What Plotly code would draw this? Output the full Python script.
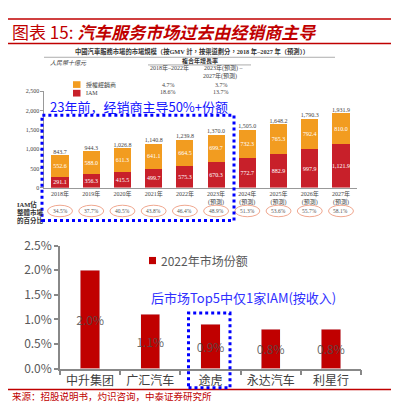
import plotly.graph_objects as go

W, H = 399, 402


def px(x):
    return x / W


def py(y):
    return 1 - y / H


# ---------------- data ----------------
years = ["2018年", "2019年", "2020年", "2021年", "2022年",
         "2023年<br>(預測)", "2024年<br>(預測)", "2025年<br>(預測)",
         "2026年<br>(預測)", "2027年<br>(預測)"]
iam = [291.1, 356.3, 415.5, 499.7, 575.3, 670.3, 772.7, 882.9, 997.9, 1121.9]
dealer = [552.6, 588.0, 611.3, 641.1, 664.5, 699.7, 732.3, 765.3, 792.4, 810.0]
totals = [843.7, 944.3, 1026.8, 1140.8, 1239.8, 1370.0, 1505.0, 1648.2, 1790.3, 1931.9]
iam_share = ["34.5%", "37.7%", "40.5%", "43.8%", "46.4%",
             "48.9%", "51.3%", "53.6%", "55.7%", "58.1%"]
top_ticks = [0, 500, 1000, 1500, 2000, 2500]

companies = ["中升集团", "广汇汽车", "途虎", "永达汽车", "利星行"]
share_2022 = [0.020, 0.011, 0.009, 0.008, 0.008]
bottom_ticks = [0, 0.005, 0.010, 0.015, 0.020, 0.025]

RED_TOP = "#C8202A"
ORANGE = "#F29C20"
RED = "#C00000"
BLUE = "#1414FF"
SERIF = "Liberation Serif, Noto Sans CJK TC"
SANS = "Noto Sans CJK SC"

fig = go.Figure()

# ---------------- top stacked chart ----------------
fig.add_trace(go.Bar(
    x=years, y=iam, marker_color=RED_TOP, width=0.55,
    texttemplate="%{y:,.1f}", textposition="inside", insidetextanchor="middle",
    textangle=0,
    insidetextfont=dict(size=6, color="white", family=SERIF),
    constraintext="none", xaxis="x", yaxis="y", showlegend=False,
    marker_line_width=0))
fig.add_trace(go.Bar(
    x=years, y=dealer, marker_color=ORANGE, width=0.55,
    texttemplate="%{y:,.1f}", textposition="inside", insidetextanchor="middle",
    textangle=0,
    insidetextfont=dict(size=6, color="white", family=SERIF),
    constraintext="none", xaxis="x", yaxis="y", showlegend=False,
    marker_line_width=0))
fig.add_trace(go.Scatter(
    x=years, y=totals, mode="text", texttemplate="%{y:,.1f}",
    textposition="top center", textfont=dict(size=6, color="#444", family=SERIF),
    xaxis="x", yaxis="y", showlegend=False, cliponaxis=False))

# ---------------- bottom chart ----------------
fig.add_trace(go.Bar(
    x=companies, y=share_2022, marker_color=RED, width=0.32,
    texttemplate="%{y:.1%}", textposition="inside", insidetextanchor="middle",
    textangle=0,
    insidetextfont=dict(size=12, color="rgba(80,80,80,0.85)", family=SANS),
    constraintext="none", xaxis="x2", yaxis="y2", name="2022年市场份额",
    showlegend=False))

shapes = []
annotations = []

# title lines
shapes.append(dict(type="line", xref="paper", yref="paper", x0=0, x1=1,
                   y0=py(1), y1=py(1), line=dict(color=RED, width=1.5)))
shapes.append(dict(type="line", xref="paper", yref="paper", x0=0, x1=1,
                   y0=py(26.5), y1=py(26.5), line=dict(color=RED, width=1.5)))
shapes.append(dict(type="line", xref="paper", yref="paper", x0=0, x1=1,
                   y0=py(388), y1=py(388), line=dict(color=RED, width=1.5)))

annotations.append(dict(
    xref="paper", yref="paper", x=px(2), y=py(14.5), xanchor="left", yanchor="middle",
    showarrow=False, text="图表 15: <b><i>汽车服务市场过去由经销商主导</i></b>",
    font=dict(size=17, color=RED, family=SANS)))
annotations.append(dict(
    xref="paper", yref="paper", x=px(3), y=py(394.5), xanchor="left", yanchor="middle",
    showarrow=False, borderpad=0, text="来源：招股说明书，灼识咨询，中泰证券研究所",
    font=dict(size=9.5, color=RED, family=SANS)))

# top chart header texts
shapes.append(dict(type="line", xref="paper", yref="paper", x0=px(36), x1=px(327),
                   y0=py(41), y1=py(41), line=dict(color="#888", width=0.7)))
shapes.append(dict(type="line", xref="paper", yref="paper", x0=px(140), x1=px(243),
                   y0=py(49), y1=py(49), line=dict(color="#888", width=0.7)))


def txt(x, y, s, size=6, color="#444", anchor="center", family=SERIF):
    annotations.append(dict(xref="paper", yref="paper", x=px(x), y=py(y),
                            xanchor=anchor, yanchor="middle", showarrow=False,
                            text=s, font=dict(size=size, color=color, family=family)))


txt(184, 34.5, "<b>中國汽車服務市場的市場規模（按GMV 計，按渠道劃分，2018 年–2027 年（預測））</b>", size=6.3, color="#333")
txt(40, 46.5, "<i>人民幣十億元</i>", anchor="left")
txt(192, 45, "<b>複合年增長率</b>", color="#333")
txt(161, 52.5, "2018年–2022年")
txt(215, 52.5, "2023年(預測) –")
txt(212, 60.5, "2027年(預測)")
txt(160, 69.5, "4.7%")
txt(213, 69.5, "3.7%")
txt(160, 77.5, "18.6%")
txt(213, 77.5, "13.7%")

# top legend
shapes.append(dict(type="rect", xref="paper", yref="paper", x0=px(65), x1=px(72.5),
                   y0=py(73), y1=py(66), fillcolor=ORANGE, line=dict(width=0)))
shapes.append(dict(type="rect", xref="paper", yref="paper", x0=px(65), x1=px(72.5),
                   y0=py(82), y1=py(75), fillcolor=RED_TOP, line=dict(width=0)))
txt(76, 69.5, "授權經銷商", anchor="left")
txt(76, 78.5, "IAM", anchor="left")

# left label for IAM share row
txt(7, 195, "<b>IAM佔</b>", size=6.5, color="#333", anchor="left")
txt(7, 203, "<b>整體市場</b>", size=6.5, color="#333", anchor="left")
txt(7, 211.5, "<b>的百分比</b>", size=6.5, color="#333", anchor="left")

# ellipses with IAM share
for i, s in enumerate(iam_share):
    shapes.append(dict(type="circle", xref="x", yref="paper", x0=i - 0.4, x1=i + 0.4,
                       y0=py(207.5), y1=py(195.5), line=dict(color="#F0A890", width=1)))
    annotations.append(dict(xref="x", yref="paper", x=years[i], y=py(201.5),
                            xanchor="center", yanchor="middle", showarrow=False,
                            text=s, font=dict(size=5.5, color="#555", family=SERIF)))

# blue annotation top
shapes.append(dict(type="rect", xref="paper", yref="paper", x0=px(34), x1=px(226),
                   y0=py(211.5), y1=py(101.5), line=dict(color="#0000FF", width=3, dash="dot")))
annotations.append(dict(xref="paper", yref="paper", x=px(40), y=py(92),
                        xanchor="left", yanchor="middle", showarrow=False,
                        text="23年前，经销商主导50%+份额",
                        font=dict(size=13, color=BLUE, family=SANS)))

# bottom legend
shapes.append(dict(type="rect", xref="paper", yref="paper", x0=px(141), x1=px(148),
                   y0=py(257), y1=py(249.5), fillcolor=RED, line=dict(width=0)))
annotations.append(dict(xref="paper", yref="paper", x=px(151), y=py(253),
                        xanchor="left", yanchor="middle", showarrow=False,
                        text="2022年市场份额", font=dict(size=12, color="#595959", family=SANS)))

# bottom blue annotation
annotations.append(dict(xref="paper", yref="paper", x=px(141), y=py(291.5),
                        xanchor="left", yanchor="middle", showarrow=False,
                        text="后市场Top5中仅1家IAM(按收入)",
                        font=dict(size=13, color="#3030FF", family=SANS)))
shapes.append(dict(type="rect", xref="paper", yref="paper", x0=px(180.5), x1=px(222),
                   y0=py(386), y1=py(308), line=dict(color="#0000FF", width=3, dash="dot")))

fig.update_layout(
    width=W, height=H, margin=dict(l=0, r=0, t=0, b=0),
    paper_bgcolor="white", plot_bgcolor="rgba(0,0,0,0)",
    barmode="stack", showlegend=False,
    shapes=shapes, annotations=annotations,
    xaxis=dict(domain=[px(36.4), px(348.6)], anchor="y", range=[-0.5, 9.5],
               showline=True, linecolor="#999", linewidth=1, ticks="",
               tickfont=dict(size=6, color="#444", family=SERIF), tickangle=0,
               showgrid=False, fixedrange=True),
    yaxis=dict(domain=[py(177.3), py(76.5)], anchor="x", range=[0, 2500],
               tickvals=top_ticks, tickformat=",", ticks="outside", ticklen=3,
               tickcolor="#999", showline=True, linecolor="#999", linewidth=1,
               showgrid=False, zeroline=False,
               tickfont=dict(size=6, color="#444", family=SERIF), fixedrange=True),
    xaxis2=dict(domain=[px(52), px(353)], anchor="y2", range=[-0.5, 4.5],
                showline=True, linecolor="#888", linewidth=1.5, ticks="outside",
                tickson="boundaries", ticklen=5, tickcolor="#888", tickwidth=1.5,
                tickfont=dict(size=12, color="#404040", family=SANS),
                showgrid=False, fixedrange=True),
    yaxis2=dict(domain=[py(366), py(237.6)], anchor="x2", range=[0, 0.025],
                tickvals=bottom_ticks, tickformat=".1%", ticks="outside", ticklen=4,
                tickcolor="#888", tickwidth=1.5, showline=True, linecolor="#888",
                linewidth=1.5, showgrid=False, zeroline=False,
                tickfont=dict(size=12, color="#595959", family=SANS), fixedrange=True),
)

fig.write_html("out.html")
